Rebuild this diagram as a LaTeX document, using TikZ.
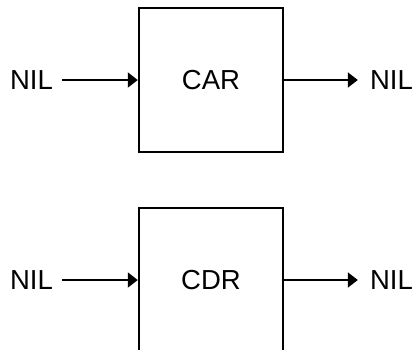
\documentclass[tikz,border=0pt]{standalone}
\usepackage{fontspec}
\setmainfont{Liberation Sans}
\usetikzlibrary{arrows.meta}

\begin{document}
\begin{tikzpicture}[x=1pt, y=-1pt, >={Triangle[length=10pt, width=15pt]},
    cell/.style={draw, line width=2.5pt, minimum width=144pt, minimum height=144pt, inner sep=0pt, font=\fontsize{27.5}{33}\selectfont},
    nil/.style={inner sep=0pt, font=\fontsize{27.5}{33}\selectfont},
    link/.style={->, line width=2pt}]

    \useasboundingbox (0,0) rectangle (412,349);

    % CAR cell
    \node[cell] (car) at (211,80) {CAR};
    \node[nil] (carin) at (31.4,80) {NIL};
    \node[nil] (carout) at (391.4,80) {NIL};
    \draw[link, shorten <=9pt] (carin) -- (car);
    \draw[link, shorten >=12pt] (car) -- (carout);

    % CDR cell (runs off the bottom)
    \node[cell] (cdr) at (211,280) {CDR};
    \node[nil] (cdrin) at (31.4,280) {NIL};
    \node[nil] (cdrout) at (391.4,280) {NIL};
    \draw[link, shorten <=9pt] (cdrin) -- (cdr);
    \draw[link, shorten >=12pt] (cdr) -- (cdrout);

  \end{tikzpicture}
\end{document}
